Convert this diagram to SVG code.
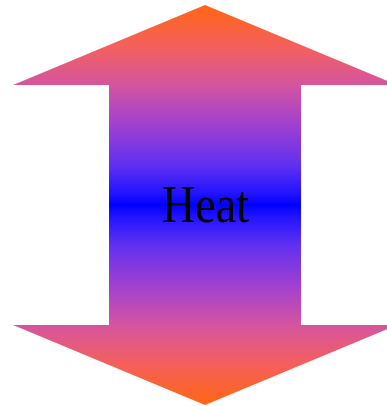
<svg xmlns="http://www.w3.org/2000/svg" width="387" height="406" viewBox="0 0 387 406">
  <style>
    .label { font-family: "Liberation Serif", "Times New Roman", serif; font-size: 53px; fill: #000000; }
  </style>
  <defs>
    <linearGradient id="heatGrad" gradientUnits="userSpaceOnUse" x1="0" y1="5" x2="0" y2="405">
      <stop offset="0" stop-color="#ff6614"/>
      <stop offset="0.1" stop-color="#f5605a"/>
      <stop offset="0.2" stop-color="#d455a0"/>
      <stop offset="0.3" stop-color="#a040d0"/>
      <stop offset="0.4" stop-color="#6030f0"/>
      <stop offset="0.47" stop-color="#2214ff"/>
      <stop offset="0.5" stop-color="#0000ff"/>
      <stop offset="0.53" stop-color="#2214ff"/>
      <stop offset="0.6" stop-color="#6030f0"/>
      <stop offset="0.7" stop-color="#a040d0"/>
      <stop offset="0.8" stop-color="#d455a0"/>
      <stop offset="0.9" stop-color="#f5605a"/>
      <stop offset="1" stop-color="#ff6614"/>
    </linearGradient>
  </defs>
  <g id="heat-arrow">
    <path d="M205,5 L397,85 L301,85 L301,325 L397,325 L205,405 L13,325 L109,325 L109,85 L13,85 Z" fill="url(#heatGrad)"/>
    <text class="label" x="162" y="222" textLength="87" lengthAdjust="spacingAndGlyphs">Heat</text>
  </g>
  <g id="connectors"></g>
</svg>
